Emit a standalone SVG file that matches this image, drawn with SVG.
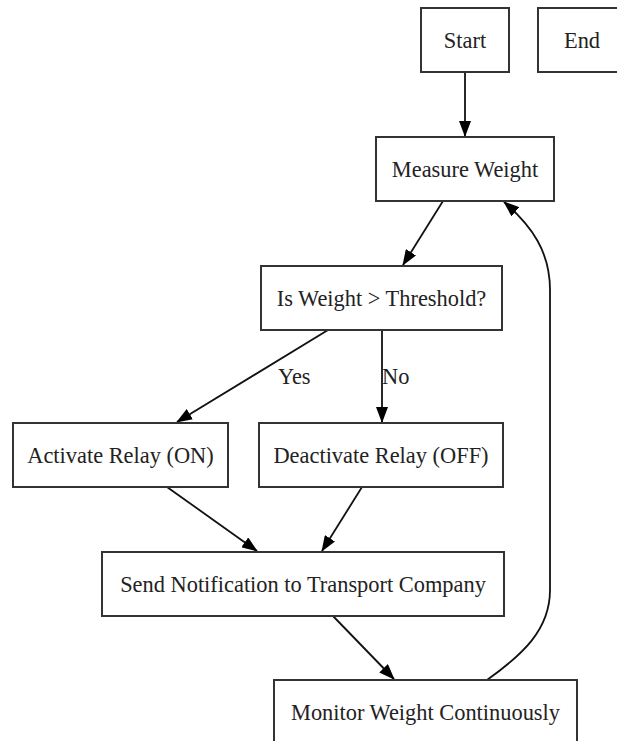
<svg xmlns="http://www.w3.org/2000/svg" width="617" height="741" viewBox="0 0 617 741">
<style>
.box{fill:#fff;stroke:#333;stroke-width:2}
text{font-family:'Times New Roman','Liberation Serif','DejaVu Serif',serif;font-size:22.4px;fill:#222}
.lbl{text-anchor:middle}
.edge{fill:none;stroke:#111;stroke-width:1.8;marker-end:url(#ah)}
</style>
<defs>
<marker id="ah" viewBox="0 0 16 12" refX="15" refY="6" markerWidth="16" markerHeight="12" markerUnits="userSpaceOnUse" orient="auto">
<path d="M0,0 L16,6 L0,12 z" fill="#000"/>
</marker>
</defs>
<rect width="617" height="741" fill="#fff"/>
<g id="connectors">
<path class="edge" d="M465,72 L465,136"/>
<path class="edge" d="M443,201 L403,265"/>
<path class="edge" d="M328,330 L177,422"/>
<path class="edge" d="M382,330 L382,422"/>
<path class="edge" d="M167,487 L257,551"/>
<path class="edge" d="M362,487 L322,551"/>
<path class="edge" d="M333,616 L394,679"/>
<path class="edge" d="M487,680 C522,655 550,630 550,590 L550,290 C550,252 532,226 504,202"/>
<text x="278" y="384">Yes</text>
<text x="382" y="384">No</text>
</g>
<g id="start"><rect class="box" x="421" y="8" width="88" height="64"/><text class="lbl" x="465" y="48">Start</text></g>
<g id="end"><rect class="box" x="538" y="8" width="88" height="64"/><text class="lbl" x="582" y="48">End</text></g>
<g id="measure"><rect class="box" x="376" y="137" width="178" height="64"/><text class="lbl" x="465" y="177">Measure Weight</text></g>
<g id="decision"><rect class="box" x="261" y="266" width="241" height="64"/><text class="lbl" x="381.5" y="306">Is Weight &gt; Threshold?</text></g>
<g id="activate"><rect class="box" x="13" y="423" width="215" height="64"/><text class="lbl" x="120.5" y="463">Activate Relay (ON)</text></g>
<g id="deactivate"><rect class="box" x="259" y="423" width="244" height="64"/><text class="lbl" x="381" y="463">Deactivate Relay (OFF)</text></g>
<g id="notify"><rect class="box" x="102" y="552" width="402" height="64"/><text class="lbl" x="303" y="592">Send Notification to Transport Company</text></g>
<g id="monitor"><rect class="box" x="274" y="680" width="303" height="64"/><text class="lbl" x="425.5" y="720">Monitor Weight Continuously</text></g>
</svg>
